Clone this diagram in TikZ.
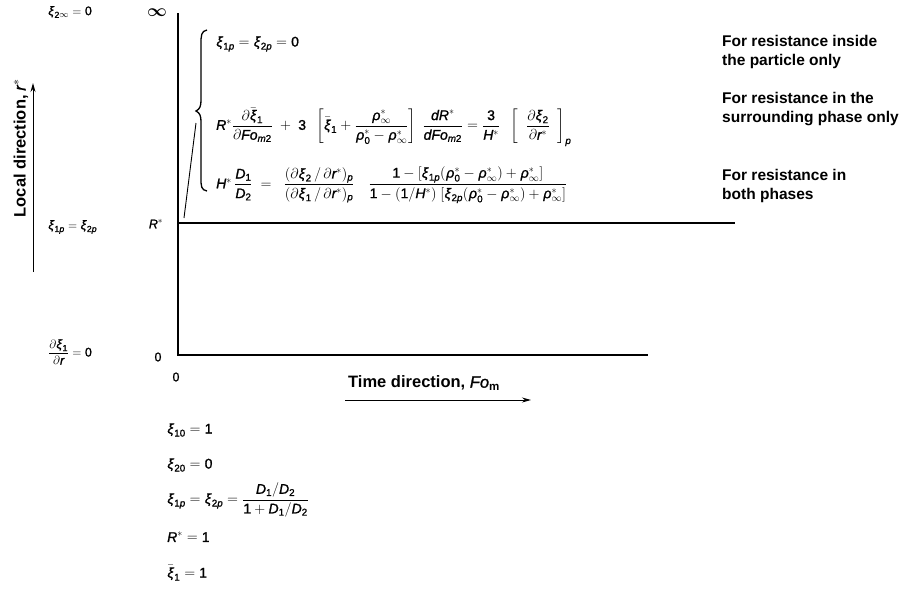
\documentclass[tikz,border=0pt]{standalone}
\usepackage{amsmath}
\usepackage{mathspec}
\setmainfont{Liberation Sans}
\setmathsfont(Digits,Latin,Greek)[Scale=1,FakeBold=1.2]{Liberation Sans}
\usetikzlibrary{arrows.meta}
\begin{document}
\begin{tikzpicture}[x=1pt,y=-1pt,
  txt/.style={font=\bfseries\fontsize{15.5}{19}\selectfont, inner sep=0pt, anchor=west, align=left},
  dirlab/.style={font=\bfseries\fontsize{16.5}{19}\selectfont, inner sep=0pt},
  eq/.style={font=\fontsize{14}{16}\selectfont, inner sep=0pt, anchor=west},
  leq/.style={font=\fontsize{12.5}{14}\selectfont, inner sep=0pt, anchor=west},
  axis/.style={line width=1.2pt},
  dirarrow/.style={line width=1pt, -{Stealth[length=9pt,width=5pt]}}]
\useasboundingbox (0,0) rectangle (910,592);
% axes
\coordinate (top) at (178,13);
\coordinate (orig) at (178,355);
\coordinate (botend) at (648,355);
\coordinate (rl) at (178,223);
\coordinate (rr) at (735,223);
\draw[axis] (top) -- (orig) -- (botend);
\draw[axis] (rl) -- (rr);
% labels at axis
\node[font=\fontsize{17}{19}\selectfont, inner sep=0pt] (inf) at (157,13) {$\boldsymbol{\infty}$};
\node[leq, anchor=center] (rstar) at (156,224) {$R^{*}$};
\node[leq, anchor=center] (o1) at (158,357) {$0$};
\node[leq, anchor=center] (o2) at (176,377) {$0$};
% slanted line and brace
\coordinate (s1) at (184,218);
\coordinate (s2) at (196,123);
\draw[line width=0.9pt] (s1) -- (s2);
\draw[line width=1.3pt] (207,30) .. controls (201,31) and (201,36) .. (201,44)
   -- (201,100) .. controls (201,106) and (200,109) .. (196,111)
   .. controls (200,113) and (201,116) .. (201,122)
   -- (201,178) .. controls (201,186) and (201,190) .. (207,191);
% equations
\node[eq] (e1) at (216,44) {$\xi_{1p}=\xi_{2p}=0$};
\node[eq] (e2) at (216,127) {$R^{*}\dfrac{\partial\bar{\xi}_1}{\partial Fo_{m2}}\;+\;3\;\;\left[\bar{\xi}_1+\dfrac{\rho^{*}_{\infty}}{\rho^{*}_{0}-\rho^{*}_{\infty}}\right]\;\dfrac{dR^{*}}{dFo_{m2}}=\dfrac{3}{H^{*}}\;\;\left[\;\;\dfrac{\partial\xi_2}{\partial r^{*}}\;\;\right]_p$};
\node[eq] (e3) at (216,185) {$H^{*}\,\dfrac{D_1}{D_2}\;=\;\;\dfrac{(\partial\xi_2\,/\,\partial r^{*})_p}{(\partial\xi_1\,/\,\partial r^{*})_p}\quad\dfrac{1-[\xi_{1p}(\rho^{*}_{0}-\rho^{*}_{\infty})+\rho^{*}_{\infty}]}{1-(1/H^{*})\;[\xi_{2p}(\rho^{*}_{0}-\rho^{*}_{\infty})+\rho^{*}_{\infty}]}$};
% right descriptions
\node[txt, anchor=north west] (d1) at (722,35) {For resistance inside\\the particle only};
\node[txt, anchor=north west] (d2) at (722,92) {For resistance in the\\surrounding phase only};
\node[txt, anchor=north west] (d3) at (722,169) {For resistance in\\both phases};
% left boundary conditions
\node[leq] (l1) at (48,12) {$\xi_{2\infty}=0$};
\node[leq] (l2) at (48,227) {$\xi_{1p}=\xi_{2p}$};
\node[leq] (l3) at (48,352) {$\dfrac{\partial\xi_1}{\partial r}=0$};
% direction arrows
\node[dirlab, rotate=90] (ld) at (21,148) {Local direction, $r^{*}$};
\coordinate (la1) at (33,272);
\coordinate (la2) at (33,83);
\draw[dirarrow] (la1) -- (la2);
\node[dirlab, anchor=west] (td) at (348,383) {Time direction, $Fo_{\text{m}}$};
\coordinate (ta1) at (345,400);
\coordinate (ta2) at (531,400);
\draw[dirarrow] (ta1) -- (ta2);
% initial conditions
\node[eq] (i1) at (167,430) {$\xi_{10}=1$};
\node[eq] (i2) at (167,465) {$\xi_{20}=0$};
\node[eq] (i3) at (167,500) {$\xi_{1p}=\xi_{2p}=\dfrac{D_1/D_2}{1+D_1/D_2}$};
\node[eq] (i4) at (167,537) {$R^{*}=1$};
\node[eq] (i5) at (167,573) {$\bar{\xi}_1=1$};
\end{tikzpicture}
\end{document}
